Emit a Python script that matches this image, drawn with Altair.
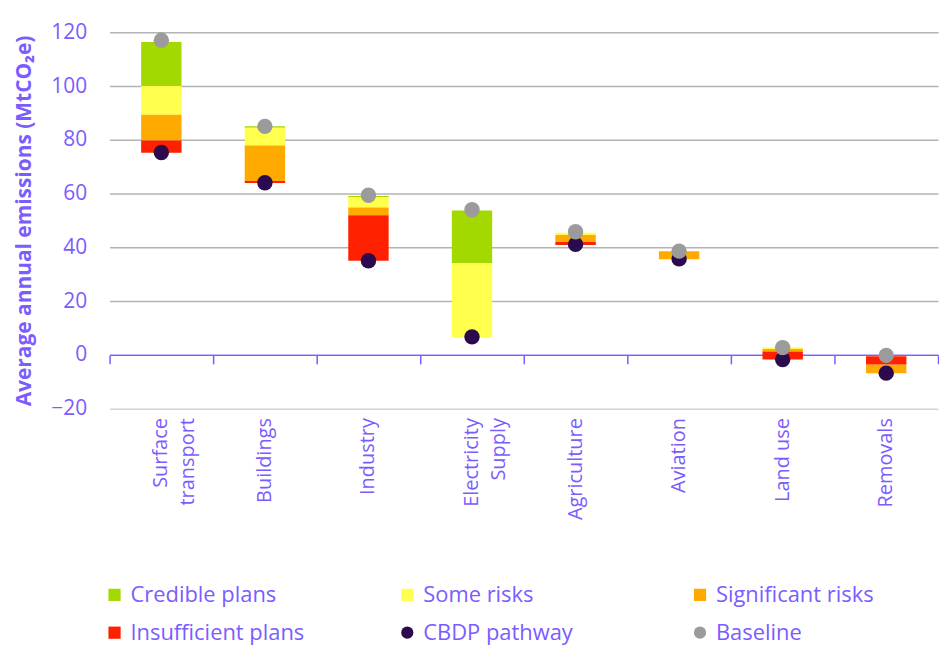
import altair as alt
import pandas as pd

categories = ["Surface\ntransport", "Buildings", "Industry", "Electricity\nSupply",
              "Agriculture", "Aviation", "Land use", "Removals"]

series_names = ["Credible plans", "Some risks", "Significant risks",
                "Insufficient plans", "CBDP pathway", "Baseline"]
series_colors = ["#a3d900", "#ffff4d", "#ffaa00", "#ff2000", "#2b0a4d", "#9b9b9b"]

credible_low = [100.0, 84.5, 58.6, 34.2, None, None, None, None]
credible_high = [116.4, 85.0, 59.1, 53.7, None, None, None, None]
some_low = [89.3, 77.9, 54.8, 6.5, 44.6, None, 2.2, None]
some_high = [100.0, 84.5, 58.6, 34.2, 45.4, None, 2.8, None]
sig_low = [79.7, 64.7, 51.9, None, 42.0, 35.6, 1.3, -6.8]
sig_high = [89.3, 77.9, 54.8, None, 44.6, 38.5, 2.2, -3.6]
insuf_low = [75.2, 63.9, 35.0, None, 40.9, None, -1.7, -3.6]
insuf_high = [79.7, 64.7, 51.9, None, 42.0, None, 1.3, -0.5]
cbdp = [75.3, 64.0, 35.0, 6.7, 41.1, 35.7, -1.7, -6.8]
baseline = [117.0, 85.0, 59.4, 54.0, 45.8, 38.6, 2.7, -0.2]
y_ticks = [-20, 0, 20, 40, 60, 80, 100, 120]

PURPLE = "#7b5cff"
FONT = "Open Sans"

rows = []
for name, lows, highs in [
    ("Credible plans", credible_low, credible_high),
    ("Some risks", some_low, some_high),
    ("Significant risks", sig_low, sig_high),
    ("Insufficient plans", insuf_low, insuf_high),
]:
    for c, lo, hi in zip(categories, lows, highs):
        if lo is not None:
            rows.append({"category": c, "series": name, "low": lo, "high": hi})
bars_df = pd.DataFrame(rows)
cbdp_df = pd.DataFrame({"category": categories, "series": "CBDP pathway", "value": cbdp})
base_df = pd.DataFrame({"category": categories, "series": "Baseline", "value": baseline})

H = 378
x_scale = alt.Scale(domain=categories, paddingInner=0, paddingOuter=0)
y_scale = alt.Scale(domain=[-20, 120], nice=False, zero=False)
y_axis = alt.Axis(
    title="Average annual emissions (MtCO₂e)", values=y_ticks, domain=False, ticks=False,
    labelFontSize=21, labelColor=PURPLE, labelFont=FONT, labelPadding=23,
    titleFontSize=21, titleColor=PURPLE, titleFont=FONT, titleFontWeight="bold", titlePadding=16,
    gridColor={"condition": [
        {"test": "datum.value == 0", "value": PURPLE},
        {"test": "datum.value == -20", "value": "#d4d4d4"}],
        "value": "#b3b3b3"},
    gridWidth=1.5,
)

color = alt.Color(
    "series:N",
    scale=alt.Scale(domain=series_names, range=series_colors),
    legend=alt.Legend(
        title=None, orient="none", legendX=-6, legendY=554, direction="horizontal",
        columns=3, gridAlign="all", columnPadding=92, rowPadding=16,
        labelFontSize=22, labelColor=PURPLE, labelFont=FONT, labelOffset=5, labelLimit=400,
        symbolSize=150, symbolStrokeWidth=0, symbolOpacity=1,
        symbolType=alt.ExprRef(
            "(datum.value == 'CBDP pathway' || datum.value == 'Baseline') ? 'circle' : 'square'"),
    ),
)

zero_axis = alt.Axis(
    orient="bottom", title=None, labels=False, domain=True, domainColor=PURPLE, domainWidth=1.5,
    ticks=True, tickColor=PURPLE, tickSize=9, tickWidth=1.5, tickBand="extent",
    grid=False, offset=-(H * 20 / 140),
)
label_axis = alt.Axis(
    orient="bottom", title=None, domain=False, ticks=False, grid=False, labelAngle=270,
    labelFontSize=20, labelColor=PURPLE, labelFont=FONT, labelPadding=9,
    labelLineHeight=27, labelExpr="split(datum.label, '\\n')",
)

bars = alt.Chart(bars_df).mark_bar(width=alt.RelativeBandSize(0.39)).encode(
    x=alt.X("category:N", sort=categories, scale=x_scale, axis=zero_axis),
    y=alt.Y("low:Q", scale=y_scale, axis=y_axis),
    y2="high:Q",
    color=color,
)
cbdp_pts = alt.Chart(cbdp_df).mark_circle(size=240, opacity=1).encode(
    x=alt.X("category:N", sort=categories, scale=x_scale, axis=label_axis),
    y=alt.Y("value:Q", scale=y_scale, axis=y_axis),
    color=color,
)
base_pts = alt.Chart(base_df).mark_circle(size=240, opacity=1).encode(
    x=alt.X("category:N", sort=categories, scale=x_scale, axis=None),
    y=alt.Y("value:Q", scale=y_scale, axis=y_axis),
    color=color,
)

chart = alt.layer(bars, cbdp_pts, base_pts).resolve_axis(x="independent").properties(
    width=832, height=H,
    padding={"left": 5, "top": 12, "right": 0, "bottom": 0},
    background="white",
).configure_view(stroke=None)

chart.save("out.html", embed_options={"renderer": "svg", "actions": False})
